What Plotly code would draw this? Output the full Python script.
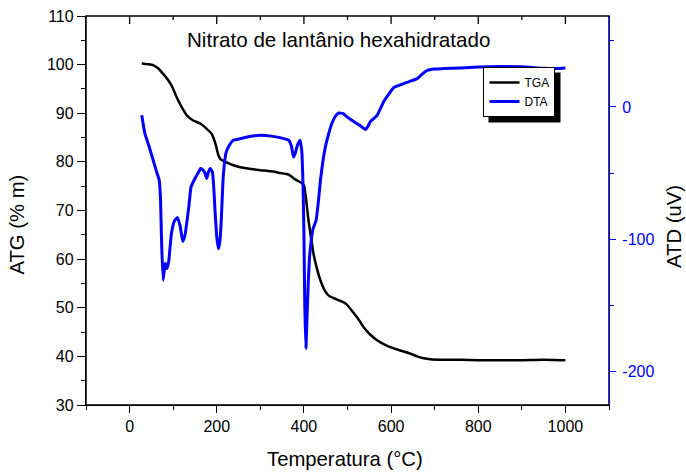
import plotly.graph_objects as go

# ---- data ----
tga_T = [28, 40, 54, 66, 77, 87, 97, 108, 120, 131, 146, 162, 177, 188, 193, 198, 204, 209,
         220, 238, 254, 275, 300, 330, 346, 361, 370, 378, 386, 394, 400, 405, 410, 416, 422,
         430, 438, 447, 457, 470, 484, 498, 510, 524, 537, 552, 568, 583, 598, 621, 640, 660,
         675, 690, 720, 760, 800, 850, 900, 950, 1000]
tga_y = [100.3, 100.1, 99.9, 99.2, 98.1, 97.0, 95.6, 93.3, 91.2, 89.6, 88.5, 87.9, 86.8, 85.8,
         84.8, 83.4, 81.3, 80.5, 80.0, 79.3, 78.9, 78.6, 78.3, 78.0, 77.7, 77.5, 77.1, 76.5,
         76.1, 75.7, 75.2, 72.3, 68.3, 64.6, 61.1, 58.0, 55.6, 53.7, 52.5, 51.9, 51.4, 50.7,
         49.4, 47.8, 46.0, 44.5, 43.3, 42.5, 41.9, 41.2, 40.7, 40.0, 39.6, 39.4, 39.3, 39.3,
         39.2, 39.2, 39.2, 39.3, 39.2]

dta_T = [28, 35, 45, 54, 62, 68, 71, 73.5, 77, 80, 82, 86, 90, 96, 103, 110, 116, 122, 127, 131,
         136, 141, 150, 157, 163, 169, 173, 177, 181, 185, 190, 193, 196, 200, 204, 207, 210,
         215, 221, 227, 238, 254, 275, 300, 325, 345, 365, 371, 376, 380, 385, 391, 395, 398,
         400, 402, 404.5, 407, 410, 413, 417, 421, 428, 433, 438, 444, 450, 457, 464, 472, 480,
         490, 499, 510, 521, 531, 541, 547, 552, 560, 568, 583, 598, 606, 620, 640, 660, 672,
         683, 700, 720, 760, 800, 850, 900, 950, 980, 1000]
dta_v = [-6.3, -20, -30, -40, -49, -55.3, -70, -103, -130.8, -122, -118, -122, -116, -95.5, -86,
         -83.5, -90, -101.5, -97, -88, -75, -60.4, -54, -50, -46.5, -47.8, -50, -54, -49, -46.5,
         -49, -60, -78, -98, -107, -102, -88, -52, -35, -30, -25.1, -23.9, -22.3, -21.4, -22,
         -23.1, -25.1, -29, -37.7, -35, -29, -25.1, -33, -60, -95, -150, -182.3, -160, -132,
         -113, -100, -92, -85.5, -72, -55, -40, -29, -20, -12.5, -7, -4.5, -5, -7.5, -10, -12.5,
         -14.5, -17, -14.5, -11.3, -8.8, -6.3, 4, 11.3, 14.6, 16.5, 19, 21.4, 25, 27.7, 28.7,
         29, 29.5, 30.2, 30.5, 30.3, 29.2, 29.0, 29.4]

y2_tickvals = [-200, -100, 0]
y2_ticktext = ["-200", "-100", "0"]

# top (frame) axis tick positions, same as the bottom axis
top_major_ticks = [0, 200, 400, 600, 800, 1000]
top_minor_ticks = [100, 300, 500, 700, 900]

title_text = "Nitrato de lantânio hexahidratado"
x_title = "Temperatura (°C)"
y_title = "ATG (% m)"
y2_title = "ATD (uV)"

FONT = "Liberation Sans, Arial, sans-serif"
BLUE = "#0000ff"

fig = go.Figure()
fig.add_trace(go.Scatter(x=tga_T, y=tga_y, name="TGA", mode="lines",
                         line=dict(color="black", width=2.5, shape="spline", smoothing=0.4),
                         xaxis="x", yaxis="y"))
fig.add_trace(go.Scatter(x=dta_T, y=dta_v, name="DTA", mode="lines",
                         line=dict(color=BLUE, width=3, shape="spline", smoothing=0.4),
                         xaxis="x", yaxis="y2"))

axis_common = dict(showgrid=False, zeroline=False, showline=True, linewidth=1.3)

shapes = [
    # plot frame (top edge), drawn beneath the axes
    dict(type="rect", xref="paper", yref="paper", x0=0, x1=1, y0=0, y1=1,
         fillcolor="rgba(0,0,0,0)", line=dict(color="black", width=1.5), layer="below"),
    # legend drop shadow
    dict(type="rect", xref="paper", yref="paper",
         x0=0.7696, x1=0.9073, y0=0.7262, y1=0.8548,
         fillcolor="black", line=dict(width=0), layer="above"),
]
for t in top_major_ticks:
    shapes.append(dict(type="line", xref="x", yref="paper", ysizemode="pixel", yanchor=1,
                       x0=t, x1=t, y0=0, y1=-8, line=dict(color="black", width=1.3),
                       layer="above"))
for t in top_minor_ticks:
    shapes.append(dict(type="line", xref="x", yref="paper", ysizemode="pixel", yanchor=1,
                       x0=t, x1=t, y0=0, y1=-4, line=dict(color="black", width=1.3),
                       layer="above"))

fig.update_layout(
    width=686, height=472,
    margin=dict(l=86, r=77, t=16, b=67, pad=0, autoexpand=False),
    paper_bgcolor="white", plot_bgcolor="rgba(0,0,0,0)",
    font=dict(family=FONT, color="black", size=16),
    showlegend=True,
    xaxis=dict(range=[-100, 1100], tick0=0, dtick=200, ticks="outside", ticklen=7,
               tickwidth=1.3, tickcolor="black", linecolor="black",
               minor=dict(dtick=100, ticks="outside", ticklen=4, tickwidth=1.3, tickcolor="black"),
               tickfont=dict(size=16, family=FONT, color="black"), **axis_common),
    yaxis=dict(range=[30, 110], tick0=30, dtick=10, ticks="outside", ticklen=8, tickwidth=1.3,
               tickcolor="black", linecolor="black",
               minor=dict(dtick=5, ticks="outside", ticklen=4, tickwidth=1.3, tickcolor="black"),
               tickfont=dict(size=16, family=FONT, color="black"), **axis_common),
    yaxis2=dict(range=[-225, 68.7], overlaying="y", side="right", anchor="x",
                tickmode="array", tickvals=y2_tickvals, ticktext=y2_ticktext,
                ticks="outside", ticklen=6, tickwidth=1.3, tickcolor=BLUE,
                linecolor=BLUE, ticklabelstandoff=3,
                minor=dict(tick0=0, dtick=50, ticks="outside", ticklen=4, tickwidth=1.3,
                           tickcolor=BLUE),
                tickfont=dict(size=16, family=FONT, color=BLUE), **axis_common),
    legend=dict(x=0.760, y=0.869, xanchor="left", yanchor="top",
                bgcolor="white", bordercolor="black", borderwidth=1,
                font=dict(size=12, family=FONT, color="black"), tracegroupgap=0),
    shapes=shapes,
    annotations=[
        dict(text=title_text, xref="paper", yref="paper", x=0.482, y=0.940,
             xanchor="center", yanchor="middle", showarrow=False,
             font=dict(size=20.6, family=FONT, color="black")),
        dict(text=x_title, xref="paper", yref="paper", x=0.495, y=-0.14,
             xanchor="center", yanchor="middle", showarrow=False,
             font=dict(size=20.3, family=FONT, color="black")),
        dict(text=y_title, xref="paper", yref="paper", x=-0.131, y=0.465, textangle=-90,
             xanchor="center", yanchor="middle", showarrow=False,
             font=dict(size=20.3, family=FONT, color="black")),
        dict(text=y2_title, xref="paper", yref="paper", x=1.124, y=0.46, textangle=-90,
             xanchor="center", yanchor="middle", showarrow=False,
             font=dict(size=20.3, family=FONT, color="black")),
    ],
)

fig.write_html("out.html")
